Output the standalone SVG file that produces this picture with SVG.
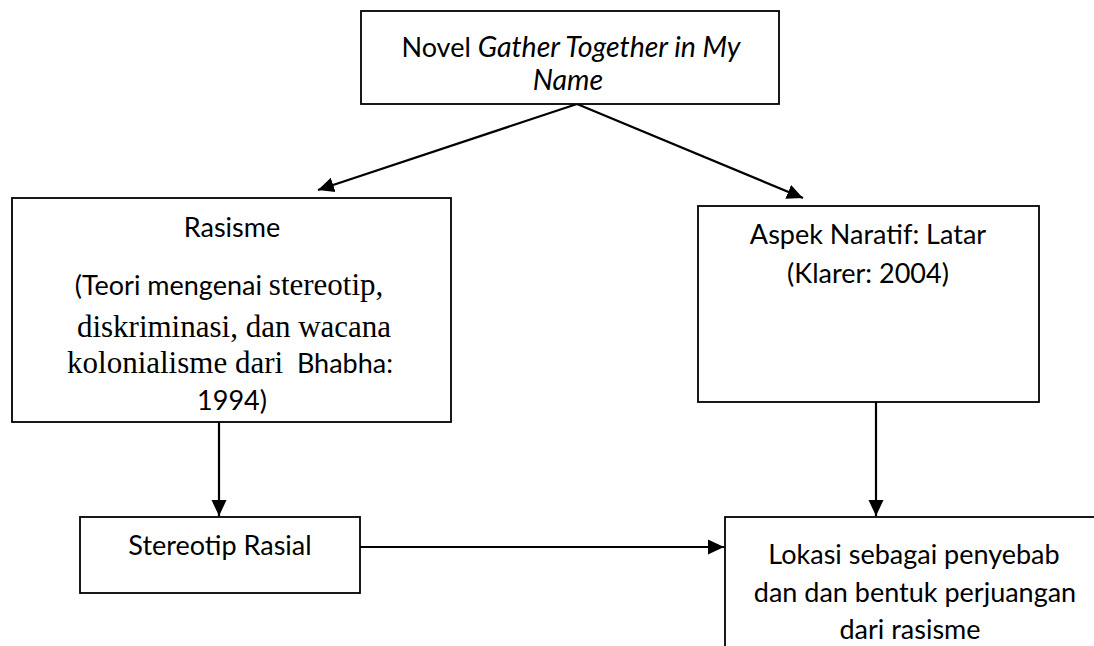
<svg xmlns="http://www.w3.org/2000/svg" width="1094" height="646" viewBox="0 0 1094 646">
<style>
.box{fill:#fff;stroke:#000;stroke-width:1.8}
.t{font-family:Lato,"Open Sans","Liberation Sans",sans-serif;font-size:27px;fill:#000;text-anchor:middle}
.it{font-style:italic;font-size:28.5px}
.serif{font-family:"Liberation Serif","Times New Roman",serif;font-size:31px}
.c{stroke:#000;stroke-width:2.2;fill:none}
</style>
<defs>
<marker id="ah" markerUnits="userSpaceOnUse" markerWidth="17" markerHeight="17" viewBox="0 0 17 17" refX="16" refY="8.5" orient="auto">
<path d="M0,1 L16,8.5 L0,16 Z" fill="#000"/>
</marker>
</defs>
<rect width="1094" height="646" fill="#fff"/>
<g id="connectors">
<line class="c" x1="577" y1="104" x2="318" y2="190" marker-end="url(#ah)"/>
<line class="c" x1="577" y1="104" x2="803" y2="198" marker-end="url(#ah)"/>
<line class="c" x1="219" y1="422" x2="219" y2="516" marker-end="url(#ah)"/>
<line class="c" x1="876" y1="402" x2="876" y2="516" marker-end="url(#ah)"/>
<line class="c" x1="360" y1="547" x2="724" y2="547" marker-end="url(#ah)"/>
</g>
<g id="novel">
<rect class="box" x="361" y="11" width="418" height="93"/>
<text class="t" x="571" y="57">Novel <tspan class="it">Gather Together in My</tspan></text>
<text class="t it" x="568" y="90">Name</text>
</g>
<g id="rasisme">
<rect class="box" x="12" y="198" width="439" height="224"/>
<text class="t" x="232" y="237">Rasisme</text>
<text class="t" x="229" y="295">(Teori mengenai <tspan class="serif">stereotip,</tspan></text>
<text class="t serif" x="234" y="337">diskriminasi, dan wacana</text>
<text class="t" x="230" y="373" xml:space="preserve"><tspan class="serif">kolonialisme dari</tspan>  Bhabha:</text>
<text class="t" x="232" y="410">1994)</text>
</g>
<g id="aspek">
<rect class="box" x="698" y="206" width="341" height="196"/>
<text class="t" x="868" y="244">Aspek Naratif: Latar</text>
<text class="t" x="868" y="283">(Klarer: 2004)</text>
</g>
<g id="stereotip">
<rect class="box" x="80" y="517" width="280" height="76"/>
<text class="t" x="220" y="555">Stereotip Rasial</text>
</g>
<g id="lokasi">
<rect class="box" x="725" y="517" width="400" height="160"/>
<text class="t" x="914" y="564">Lokasi sebagai penyebab</text>
<text class="t" x="915" y="602">dan dan bentuk perjuangan</text>
<text class="t" x="910" y="639">dari rasisme</text>
</g>
</svg>
